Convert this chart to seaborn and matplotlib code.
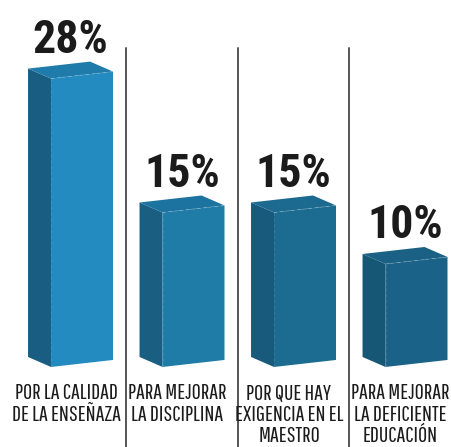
import matplotlib
matplotlib.use("Agg")
import matplotlib.pyplot as plt
import seaborn as sns
from matplotlib.patches import Polygon

# Data
categories = ["POR LA CALIDAD\nDE LA ENSEÑAZA",
              "PARA MEJORAR\nLA DISCIPLINA",
              "POR QUE HAY\nEXIGENCIA EN EL\nMAESTRO",
              "PARA MEJORAR\nLA DEFICIENTE\nEDUCACIÓN"]
values = [28, 15, 15, 10]
value_labels = ["28%", "15%", "15%", "10%"]

front_colors = ["#238BC0", "#1F7CA6", "#1C6C92", "#1A6287"]
side_colors = ["#195E82", "#1A5F82", "#185A7C", "#175776"]
top_colors = ["#1F7BAA", "#1D73A0", "#1C6A8F", "#1A6185"]

sns.set_style("white")
plt.rcParams['font.family'] = ['Pathway Gothic One', 'Barlow Condensed', 'DejaVu Sans']

fig = plt.figure(figsize=(4.51, 4.47), dpi=100)
ax = fig.add_axes([0, 0, 1, 1])

sns.barplot(x=list(range(len(values))), y=values, width=0.556, color=front_colors[0], ax=ax)

# pseudo 3D geometry (depth to the upper left, slight slant of front face)
depth_x = 0.206
depth_y = 0.97
slant = 0.68

bars = list(ax.patches)
for i, bar in enumerate(bars):
    xl = bar.get_x()
    xr = xl + bar.get_width()
    v = bar.get_height()
    bar.remove()
    front = [(xl, 0), (xr, slant), (xr, v + slant), (xl, v)]
    side = [(xl - depth_x, depth_y), (xl, 0), (xl, v), (xl - depth_x, v + depth_y)]
    top = [(xl, v), (xr, v + slant), (xr - depth_x, v + slant + depth_y), (xl - depth_x, v + depth_y)]
    ax.add_patch(Polygon(side, closed=True, facecolor=side_colors[i], edgecolor="none"))
    ax.add_patch(Polygon(front, closed=True, facecolor=front_colors[i], edgecolor="none"))
    ax.add_patch(Polygon(top, closed=True, facecolor=top_colors[i], edgecolor="none"))
    ax.plot([xl, xr], [v, v + slant], color="white", alpha=0.25, lw=0.6, ls=(0, (4, 3)))
    ax.plot([xl, xl], [0, v], color="white", alpha=0.12, lw=0.6, ls=(0, (4, 3)))

    cx = (xl - depth_x + xr) / 2
    ax.text(cx, v + 2.5, value_labels[i], ha="center", va="baseline",
            fontsize=33, fontweight="bold", color="#1b1b1b",
            family=["Roboto Condensed", "DejaVu Sans"])
    ax.text(cx - 0.04, -1.6, categories[i], ha="center", va="top",
            fontsize=16, color="#1b1b1b", linespacing=1.08)

    if i < len(bars) - 1:
        sep = (xr + bars[i + 1].get_x() - depth_x) / 2
        ax.axvline(sep, ymin=0, ymax=0.8926, color="#555555", lw=1.4)

ax.set_xlim(-0.7354, 3.3094)
ax.set_ylim(-7.77, 35.63)
ax.axis("off")

fig.savefig("out.png", dpi=100, facecolor="white")
